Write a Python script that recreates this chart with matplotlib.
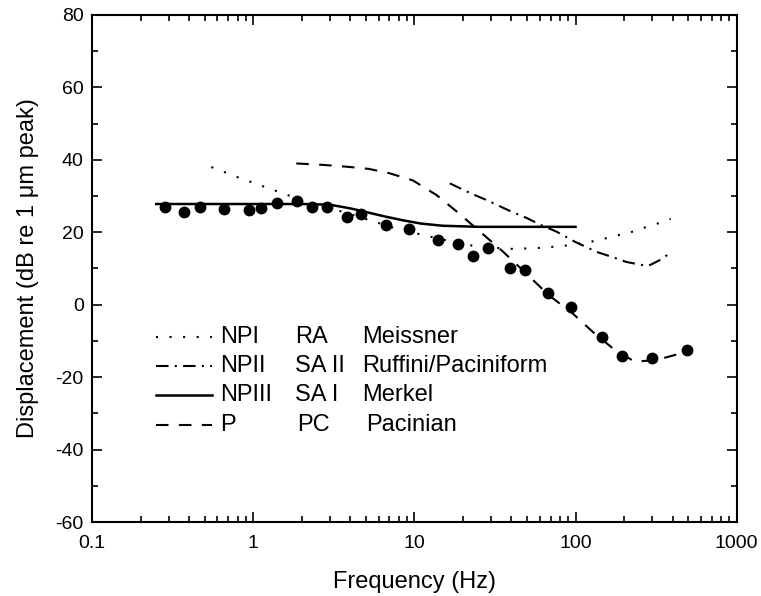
import matplotlib
matplotlib.use("Agg")
import matplotlib.pyplot as plt
from matplotlib.ticker import FixedLocator, MultipleLocator, LogLocator, NullFormatter

plt.rcParams['font.family'] = ['Liberation Sans', 'DejaVu Sans']
plt.rcParams['axes.unicode_minus'] = False

# measured points (filled circles)
data_f = [0.284, 0.373, 0.468, 0.659, 0.941, 1.117, 1.41, 1.86, 2.32, 2.88, 3.8, 4.64,
          6.65, 9.29, 14.1, 18.7, 23.2, 28.7, 39.1, 48.4, 67.6, 94.4, 147, 195, 300, 492]
data_db = [27.1, 25.7, 27.1, 26.4, 26.1, 26.6, 28.0, 28.7, 27.1, 27.1, 24.3, 25.1,
           22.0, 20.9, 17.9, 16.7, 13.5, 15.7, 10.2, 9.6, 3.3, -0.5, -9.0, -14.1, -14.8, -12.5]

# NPI (RA, Meissner) - dotted
npi_f = [0.55, 0.8, 1.2, 1.7, 2.1, 3, 4, 5.5, 8, 12, 21, 38, 56, 83, 100, 122, 147, 180, 217, 260, 318, 390]
npi_db = [38.0, 35.2, 32.4, 30.0, 28.7, 26.7, 25.0, 23.1, 20.8, 19.0, 16.5, 15.4, 15.6, 16.2, 16.7,
          17.3, 18.1, 19.1, 19.9, 21.1, 22.3, 23.7]

# NPII (SA II, Ruffini/Paciniform) - dash-dot
npii_f = [16.6, 22, 28, 40, 50, 61, 76, 99, 135, 171, 207, 256, 285, 310, 350, 390]
npii_db = [33.5, 30.9, 28.9, 25.7, 23.9, 22.0, 20.2, 17.4, 14.6, 13.1, 11.8, 11.0, 10.8, 11.6, 12.8, 14.6]

# NPIII (SA I, Merkel) - solid
npiii_f = [0.25, 0.5, 1, 2, 3, 4, 5, 6.5, 8.5, 11, 15, 25, 50, 100]
npiii_db = [27.8, 27.8, 27.8, 27.8, 27.6, 26.6, 25.6, 24.4, 23.3, 22.4, 21.8, 21.5, 21.5, 21.5]

# P (PC, Pacinian) - dashed
p_f = [1.85, 2.7, 3.8, 5.2, 7, 9.8, 13.7, 18.7, 25.5, 35.6, 50.6, 68, 96, 128, 170, 232, 315, 454, 500]
p_db = [39.0, 38.6, 38.1, 37.5, 36.3, 34.3, 30.3, 25.4, 20.2, 14.6, 8.2, 2.7, -2.4, -7.5, -12.0,
        -15.7, -15.3, -13.4, -12.5]

legend_rows = [
    ("NPI", "RA", "Meissner"),
    ("NPII", "SA II", "Ruffini/Paciniform"),
    ("NPIII", "SA I", "Merkel"),
    ("P", "PC", "Pacinian"),
]

dotted = (0, (1, 5.5))
dashdot = (0, (6, 3, 1, 3))
dashed = (0, (6, 5))
styles = [dotted, dashdot, '-', dashed]

fig = plt.figure(figsize=(7.61, 5.96), dpi=100)
ax = fig.add_axes([0.121, 0.124, 0.847, 0.851])

ax.plot(npi_f, npi_db, color='black', lw=1.5, linestyle=dotted)
ax.plot(npii_f, npii_db, color='black', lw=1.5, linestyle=dashdot)
ax.plot(npiii_f, npiii_db, color='black', lw=1.8, linestyle='-')
ax.plot(p_f, p_db, color='black', lw=1.5, linestyle=dashed)
ax.plot(data_f, data_db, 'o', color='black', markersize=7.5, linestyle='none')

ax.set_xscale('log')
ax.set_xlim(0.1, 1000)
ax.set_ylim(-60, 80)
ax.xaxis.set_major_locator(FixedLocator([0.1, 1, 10, 100, 1000]))
ax.set_xticklabels(['0.1', '1', '10', '100', '1000'])
ax.xaxis.set_minor_locator(LogLocator(base=10, subs=range(2, 10), numticks=20))
ax.xaxis.set_minor_formatter(NullFormatter())
ax.yaxis.set_major_locator(MultipleLocator(20))
ax.yaxis.set_minor_locator(MultipleLocator(10))

ax.tick_params(which='both', direction='in', top=True, right=True, labelsize=14, width=1.2)
ax.tick_params(which='major', length=7)
ax.tick_params(which='minor', length=4)
ax.tick_params(axis='x', which='major', pad=9)
ax.tick_params(axis='y', which='major', pad=6)
for s in ax.spines.values():
    s.set_linewidth(1.5)

ax.set_xlabel('Frequency (Hz)', fontsize=17, labelpad=14)
ax.set_ylabel('Displacement (dB re 1 \u03bcm peak)', fontsize=17, labelpad=12)

# legend drawn as a small table in axes coordinates
row_y = [0.365, 0.308, 0.250, 0.191]
for (c1, c2, c3), ls, y in zip(legend_rows, styles, row_y):
    ax.plot([0.099, 0.186], [y, y], transform=ax.transAxes, color='black',
            lw=1.8 if ls == '-' else 1.5, linestyle=ls)
    ax.text(0.198, y, c1, transform=ax.transAxes, fontsize=17, va='center')
    ax.text(0.318 if c2 == 'PC' else 0.315, y, c2, transform=ax.transAxes, fontsize=17, va='center')
    ax.text(0.425 if c3 == 'Pacinian' else 0.419, y, c3, transform=ax.transAxes, fontsize=17, va='center')

fig.savefig('out.png', dpi=100)
